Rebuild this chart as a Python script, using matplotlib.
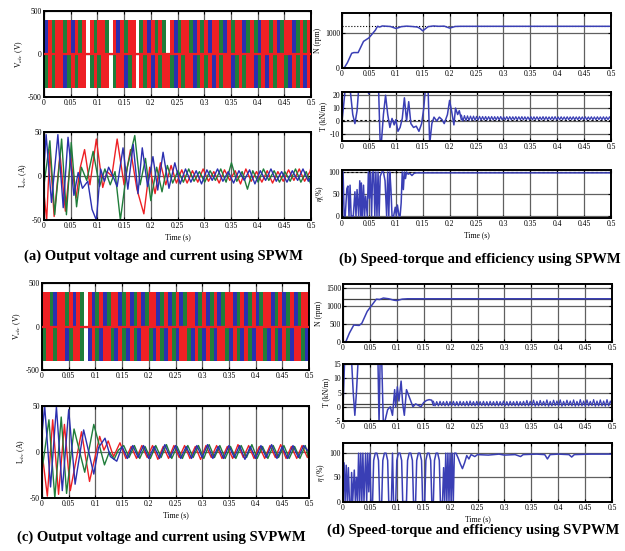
import numpy as np
import matplotlib
matplotlib.use("Agg")
import matplotlib.pyplot as plt

plt.rcParams['font.family'] = ['Liberation Serif', 'DejaVu Serif']
plt.rcParams['mathtext.fontset'] = 'stix'
plt.rcParams['axes.unicode_minus'] = False

# ---- data ----
t_ticks = [0, 0.05, 0.1, 0.15, 0.2, 0.25, 0.3, 0.35, 0.4, 0.45, 0.5]
t_labels = ['0', '0.05', '0.1', '0.15', '0.2', '0.25', '0.3', '0.35', '0.4', '0.45', '0.5']

captions = ['(a) Output voltage and current using SPWM',
            '(b) Speed-torque and efficiency using SPWM',
            '(c) Output voltage and current using SVPWM',
            '(d) Speed-torque and efficiency using SVPWM']

# line voltage stripes (one colour per slot, w = gap), level +-400 V
v_level = 400
va_top = "brgrrgrbrgr" "w" "rgrrg" "w" "rbrgrr" "w" "grbrgrg" "w" "rbgrrgbrgrbrrgbrgrrbgrgbrrgrbgrrbgrgr"
va_bot = "grgrrbgrgrr" "w" "grgrr" "w" "grrbgr" "w" "rgrbrgrrgbrgrrbgrgrbrgrrbgrgrrbgrbrgrrgbrgrbr"
vc_top = "rrgbrrgrbrg" "w" "rbgrbgrrbgrbgrbgrrbgrbgrbgrrbgrbgrbgrrbgrbgrbgrrbgrbgrbgrr"
vc_bot = "grrgrrbgrrg" "w" "brgbrrgbrgbrgbrrgbrgbrgbrrgbrgbrgbrrgbrgbrgbrrgbrgbrgbrrgb"

# phase currents (SPWM), extrema
ia_b_t = [0, 0.004, 0.014, 0.026, 0.036, 0.045, 0.056, 0.064, 0.072, 0.082, 0.090, 0.098, 0.106, 0.113,
          0.121, 0.129, 0.137, 0.148, 0.157, 0.167, 0.176, 0.184, 0.194, 0.204, 0.213, 0.223, 0.234, 0.245,
          0.255, 0.265, 0.275, 0.285, 0.295, 0.305, 0.315, 0.325, 0.335, 0.345, 0.355, 0.365, 0.375, 0.385,
          0.395, 0.405, 0.415, 0.425, 0.435, 0.445, 0.455, 0.465, 0.475, 0.485, 0.495, 0.5]
ia_b_v = [10, 47, -30, 47, -36, 44, -22, 4, -14, -6, -38, -50, 8, -6,
          10, 0, -12, 32, -15, 36, -20, 32, -12, 22, -16, 27, -14, 15,
          -9, 8, -7, 6, -9, 7, -5, 8, -6, 5, -8, 6, -5, 7,
          -9, 6, -5, 8, -6, 5, -7, 6, -5, 8, -6, 0]
ia_r_t = [0, 0.005, 0.011, 0.019, 0.030, 0.040, 0.050, 0.060, 0.068, 0.076, 0.086, 0.098, 0.110, 0.118,
          0.127, 0.137, 0.150, 0.162, 0.174, 0.187, 0.198, 0.208, 0.218, 0.228, 0.238, 0.248, 0.258, 0.268,
          0.278, 0.288, 0.298, 0.308, 0.318, 0.328, 0.338, 0.348, 0.358, 0.368, 0.378, 0.388, 0.398, 0.408,
          0.418, 0.428, 0.438, 0.448, 0.458, 0.468, 0.478, 0.488, 0.498, 0.5]
ia_r_v = [-20, -50, 30, -46, 25, -40, 20, -25, 10, 30, -10, 42, -13, 5,
          0, 42, -10, 30, -15, -43, 10, -20, 15, -10, 12, -8, 7, -8,
          6, -7, 8, -6, 5, -8, 7, -5, 6, -9, 8, -6, 5, -7,
          6, -8, 5, -6, 7, -5, 8, -6, 5, 10]
ia_g_t = [0, 0.011, 0.020, 0.033, 0.042, 0.051, 0.061, 0.070, 0.080, 0.092, 0.104, 0.114, 0.124, 0.133,
          0.143, 0.156, 0.170, 0.180, 0.190, 0.200, 0.211, 0.221, 0.231, 0.241, 0.251, 0.261, 0.271, 0.281,
          0.291, 0.301, 0.311, 0.321, 0.331, 0.341, 0.351, 0.361, 0.371, 0.381, 0.391, 0.401, 0.411, 0.421,
          0.431, 0.441, 0.451, 0.461, 0.471, 0.481, 0.491, 0.5]
ia_g_v = [-10, 40, -44, 42, -44, 38, -35, 10, -5, 28, -12, 8, -10, 5,
          -50, 10, 46, -10, 20, -28, 10, -18, 12, -8, 6, -7, 8, -6,
          5, -7, 6, -5, 8, -7, 15, -6, 5, -15, 6, -7, 8, -5,
          6, -7, 5, -6, 8, -7, 5, -10]

# phase currents (SVPWM)
ic_b_t = [0, 0.005, 0.016, 0.027, 0.038, 0.050, 0.062, 0.078, 0.097, 0.106, 0.118, 0.128, 0.140,
          0.15, 0.16, 0.17, 0.18, 0.19, 0.20, 0.21, 0.22, 0.23, 0.24, 0.25, 0.26, 0.27, 0.28, 0.29, 0.30,
          0.31, 0.32, 0.33, 0.34, 0.35, 0.36, 0.37, 0.38, 0.39, 0.40, 0.41, 0.42, 0.43, 0.44, 0.45, 0.46,
          0.47, 0.48, 0.49, 0.5]
ic_b_v = [20, 50, -38, 49, -42, 46, -35, 24, -24, 5, 15, -5, -10,
          6, -7, 7, -6, 7, -7, 6, -7, 8, -6, 7, -7, 6, -7, 7, -6,
          8, -7, 6, -7, 7, -6, 7, -8, 6, -7, 7, -6, 8, -7, 6, -7,
          7, -6, 7, 0]
ic_r_t = [0, 0.010, 0.020, 0.031, 0.042, 0.053, 0.074, 0.089, 0.108, 0.116, 0.124, 0.134, 0.146,
          0.157, 0.167, 0.177, 0.187, 0.197, 0.207, 0.217, 0.227, 0.237, 0.247, 0.257, 0.267, 0.277, 0.287,
          0.297, 0.307, 0.317, 0.327, 0.337, 0.347, 0.357, 0.367, 0.377, 0.387, 0.397, 0.407, 0.417, 0.427,
          0.437, 0.447, 0.457, 0.467, 0.477, 0.487, 0.497, 0.5]
ic_r_v = [0, -48, 35, -46, 30, -42, 22, -32, 17, 2, 12, -5, 10,
          -7, 6, -7, 7, -6, 7, -8, 6, -7, 7, -6, 7, -7, 6,
          -8, 7, -6, 7, -7, 6, -7, 8, -6, 7, -7, 6, -7, 7,
          -6, 8, -7, 6, -7, 7, -6, 8]
ic_g_t = [0, 0.013, 0.024, 0.036, 0.046, 0.060, 0.080, 0.097, 0.117, 0.126, 0.135, 0.143,
          0.153, 0.163, 0.173, 0.183, 0.193, 0.203, 0.213, 0.223, 0.233, 0.243, 0.253, 0.263, 0.273, 0.283,
          0.293, 0.303, 0.313, 0.323, 0.333, 0.343, 0.353, 0.363, 0.373, 0.383, 0.393, 0.403, 0.413, 0.423,
          0.433, 0.443, 0.453, 0.463, 0.473, 0.483, 0.493, 0.5]
ic_g_v = [-20, 35, -50, 38, -45, 25, -22, 30, -14, 0, -8, 2,
          7, -6, 7, -7, 6, -7, 7, -6, 8, -7, 6, -7, 7, -6,
          7, -7, 8, -6, 7, -7, 6, -7, 7, -6, 8, -7, 6, -7,
          7, -6, 7, -7, 6, -7, 7, -8]

# speed (rpm)
speed_b = [(0, 0), (0.004, 0), (0.010, 150), (0.018, 420), (0.022, 440), (0.030, 440), (0.040, 760),
           (0.050, 860), (0.055, 950), (0.062, 1080), (0.066, 1190), (0.070, 1170), (0.075, 1200),
           (0.080, 1195), (0.090, 1185), (0.100, 1130), (0.105, 1150), (0.110, 1180), (0.120, 1195),
           (0.130, 1185), (0.140, 1170), (0.145, 1130), (0.150, 1060), (0.155, 1120), (0.160, 1180),
           (0.170, 1200), (0.180, 1190), (0.190, 1195), (0.200, 1140), (0.205, 1160), (0.210, 1185),
           (0.220, 1190), (0.5, 1190)]
speed_d = [(0, 0), (0.005, 0), (0.012, 250), (0.020, 470), (0.030, 460), (0.035, 520), (0.045, 850),
           (0.055, 1050), (0.062, 1190), (0.068, 1180), (0.075, 1220), (0.085, 1200), (0.095, 1160),
           (0.100, 1150), (0.110, 1190), (0.120, 1200), (0.5, 1200)]
speed_ref = 1200

# torque (kN/m): transient part, then ripple samples
torque_b = [(0, 0), (0.003, 12), (0.006, 25), (0.015, 25), (0.020, 5), (0.024, -2), (0.028, 8),
            (0.031, 25), (0.046, 25), (0.050, 21), (0.054, 25), (0.068, 25), (0.071, -18), (0.073, -18),
            (0.077, 5), (0.081, 20), (0.085, 5), (0.089, -5), (0.093, 2), (0.097, -3), (0.100, 1),
            (0.104, -8), (0.108, -5), (0.112, 2), (0.116, 18), (0.120, 0), (0.124, 15), (0.128, -2),
            (0.133, -5), (0.138, -4), (0.143, -8), (0.148, -2), (0.152, 10), (0.155, 25), (0.160, 25),
            (0.163, -18), (0.167, -2), (0.171, 3), (0.176, 0), (0.181, 3), (0.186, 1), (0.190, -2),
            (0.196, 5), (0.200, 16), (0.204, 7), (0.208, -3), (0.211, 10), (0.215, 5), (0.218, 8),
            (0.222, 1)]
torque_b_ripple = [4.5, 0.0, 4.2, 0.3, 4.0, 0.5, 3.8, 0.6, 3.8, 0.6, 3.6, 0.7, 3.6, 0.8, 3.5, 0.8,
                   3.5, 0.8, 3.4, 0.9, 3.5, 0.8, 3.4, 0.9, 3.4, 0.9, 3.5, 0.8, 3.3, 0.9, 3.4, 1.0,
                   3.4, 0.9, 3.3, 1.0, 3.4, 0.9, 3.3, 1.0, 3.4, 0.9, 3.3, 1.0, 3.2, 1.0, 3.4, 0.9,
                   3.3, 1.0, 3.3, 1.0, 3.2, 1.0, 3.4, 0.9, 3.3, 1.0, 3.2, 1.1, 3.3, 1.0, 3.4, 0.9,
                   3.2, 1.0, 3.3, 1.1, 3.2, 1.0, 3.3, 1.0, 3.2, 1.1, 3.3, 1.0, 3.2, 1.0, 3.3, 1.1,
                   3.2, 1.0, 3.3, 1.0, 3.2, 1.1, 3.3, 1.0, 3.2, 1.0, 3.3, 1.1, 3.2, 1.0, 3.3, 1.0,
                   3.2, 1.1, 3.3, 1.0]
torque_b_ripple_span = (0.222, 0.5)
torque_b_ref = 1.0

torque_d = [(0, 0), (0.003, 16), (0.016, 16), (0.019, 5), (0.022, -3), (0.025, 5), (0.028, 16),
            (0.065, 16), (0.067, -6), (0.069, 16), (0.072, 16), (0.075, -6), (0.078, -5), (0.083, -1),
            (0.088, 0), (0.092, -3), (0.096, 6), (0.098, 0), (0.101, 7), (0.104, 2), (0.108, 9),
            (0.111, 1), (0.114, -3), (0.118, 6), (0.122, 4), (0.126, 2), (0.130, 0), (0.135, 1),
            (0.140, 0.5), (0.145, 0), (0.150, 1.5), (0.155, 2.2), (0.160, 2.5), (0.165, 2.3),
            (0.168, 0.5)]
torque_d_ripple = [1.9, 0.3, 1.8, 0.3, 1.9, 0.4, 1.8, 0.3, 1.9, 0.3, 1.8, 0.4, 1.9, 0.3, 1.8, 0.3,
                   1.9, 0.4, 1.8, 0.3, 1.9, 0.3, 2.0, 0.4, 1.8, 0.3, 1.9, 0.3, 1.8, 0.4, 1.9, 0.3,
                   1.8, 0.3, 1.9, 0.4, 1.8, 0.3, 1.9, 0.3, 1.8, 0.4, 2.0, 0.3, 1.8, 0.3, 1.9, 0.4,
                   1.8, 0.3, 1.9, 0.3, 1.8, 0.4, 1.9, 0.3, 2.2, 0.3, 1.9, 0.4, 2.3, 0.2, 1.9, 0.3,
                   2.2, 0.4, 1.9, 0.3, 2.4, 0.2, 1.9, 0.3, 2.3, 0.4, 2.0, 0.3, 2.4, 0.2, 1.9, 0.3,
                   2.3, 0.4, 2.0, 0.3, 2.4, 0.2, 1.9, 0.3, 2.5, 0.3, 2.0, 0.2, 2.4, 0.3, 1.9, 0.4,
                   2.5, 0.2, 2.0, 0.3, 2.4, 0.3, 2.0, 0.2, 2.5, 0.3, 2.0, 0.3]
torque_d_ripple_span = (0.168, 0.5)
torque_d_ref = 1.0

# efficiency (%)
eta_b = [(0, 0), (0.002, 100), (0.004, 0), (0.006, 0), (0.009, 62), (0.011, 68), (0.013, 0), (0.015, 70),
         (0.017, 0), (0.021, 0), (0.024, 55), (0.026, 0), (0.028, 60), (0.031, 0), (0.033, 80), (0.035, 0),
         (0.036, 75), (0.038, 0), (0.040, 70), (0.042, 0), (0.044, 45), (0.047, 0), (0.049, 100), (0.051, 40),
         (0.053, 100), (0.055, 0), (0.057, 100), (0.059, 100), (0.061, 0), (0.063, 100), (0.065, 0),
         (0.067, 100), (0.069, 0), (0.071, 90), (0.074, 100), (0.077, 100), (0.080, 80), (0.083, 0),
         (0.085, 100), (0.087, 0), (0.089, 100), (0.091, 60), (0.093, 0), (0.096, 0), (0.099, 20),
         (0.101, 0), (0.103, 25), (0.106, 0), (0.108, 0), (0.110, 30), (0.112, 100), (0.114, 60),
         (0.116, 100), (0.118, 85), (0.120, 100), (0.123, 95), (0.126, 97), (0.130, 92), (0.134, 97),
         (0.138, 98), (0.145, 98), (0.2, 98), (0.3, 98), (0.4, 98), (0.5, 98)]
eta_d = [(0, 0), (0.002, 80), (0.004, 0), (0.006, 75), (0.008, 0), (0.010, 70), (0.012, 0), (0.015, 0),
         (0.016, 60), (0.018, 0), (0.021, 65), (0.023, 0), (0.025, 50), (0.027, 0), (0.029, 100), (0.031, 0),
         (0.033, 100), (0.035, 0), (0.037, 100), (0.039, 0), (0.042, 100), (0.044, 0), (0.046, 100),
         (0.048, 20), (0.050, 100), (0.052, 0), (0.055, 0), (0.057, 85), (0.060, 100), (0.063, 100),
         (0.066, 85), (0.068, 0), (0.072, 0), (0.074, 85), (0.077, 100), (0.080, 100), (0.083, 85),
         (0.085, 0), (0.090, 0), (0.092, 100), (0.094, 0), (0.098, 0), (0.100, 85), (0.103, 100),
         (0.106, 100), (0.109, 85), (0.111, 0), (0.118, 0), (0.120, 85), (0.123, 100), (0.126, 100),
         (0.129, 85), (0.131, 0), (0.135, 0), (0.137, 85), (0.140, 100), (0.143, 100), (0.146, 85),
         (0.148, 0), (0.152, 0), (0.154, 85), (0.157, 100), (0.160, 100), (0.163, 85), (0.165, 0),
         (0.168, 0), (0.170, 85), (0.173, 100), (0.176, 100), (0.179, 85), (0.181, 0), (0.185, 0),
         (0.187, 70), (0.189, 0), (0.191, 100), (0.193, 0), (0.195, 100), (0.197, 0), (0.199, 100),
         (0.201, 0), (0.203, 100), (0.205, 0), (0.207, 100), (0.210, 100), (0.214, 90), (0.218, 78),
         (0.222, 68), (0.226, 80), (0.230, 95), (0.234, 88), (0.238, 97), (0.245, 93), (0.25, 97),
         (0.27, 96), (0.29, 98), (0.30, 96), (0.32, 97), (0.33, 93), (0.335, 97), (0.36, 98),
         (0.375, 97), (0.38, 88), (0.385, 97), (0.40, 98), (0.42, 97), (0.425, 92), (0.43, 97),
         (0.46, 98), (0.5, 98)]

# ---- drawing ----
RED, GRN, BLU = '#ee2024', '#1f7d3a', '#2b2fb0'
LINE = '#3a3fb5'
cmap = {'r': RED, 'g': GRN, 'b': BLU}

fig = plt.figure(figsize=(6.25, 5.51), dpi=100)


def px_axes(left, top, right, bottom):
    return fig.add_axes([left / 625, 1 - bottom / 551, (right - left) / 625, (bottom - top) / 551])


def style(ax, yticks, ylim, ylabel, xlabel=None):
    ax.set_xlim(0, 0.5)
    ax.set_ylim(*ylim)
    ax.set_xticks(t_ticks)
    ax.set_xticklabels(t_labels)
    ax.set_yticks(yticks)
    ax.tick_params(direction='in', top=True, right=True, length=2.5, width=0.8,
                   labelsize=5.5, pad=1.5)
    ax.grid(True, color='#606060', lw=0.9)
    ax.set_axisbelow(True)
    for s in ax.spines.values():
        s.set_linewidth(1.4)
    ax.set_ylabel(ylabel, fontsize=5.5, labelpad=2)
    if xlabel:
        ax.set_xlabel(xlabel, fontsize=5.5, labelpad=2)


def stripes(ax, top, bot):
    for seq, sign in ((top, 1), (bot, -1)):
        edges = np.linspace(0, 0.5, len(seq) + 1)
        keep = [i for i, c in enumerate(seq) if c != 'w']
        ax.bar(edges[keep], sign * v_level, width=edges[1] - edges[0], align='edge',
               color=[cmap[seq[i]] for i in keep], linewidth=0, zorder=2)
    ax.axhline(0, color=RED, lw=1.6, zorder=3)


def pairs(ax, data, **kw):
    arr = np.array(data)
    ax.plot(arr[:, 0], arr[:, 1], **kw)


# (a) SPWM voltage / current
ax = px_axes(44, 11, 311, 97)
stripes(ax, va_top, va_bot)
style(ax, [-500, 0, 500], (-500, 500), r'V$_{abc}$ (V)')

ax = px_axes(44, 132, 311, 220)
ax.plot(ia_r_t, ia_r_v, color=RED, lw=1.0)
ax.plot(ia_g_t, ia_g_v, color=GRN, lw=1.0)
ax.plot(ia_b_t, ia_b_v, color=BLU, lw=1.0)
style(ax, [-50, 0, 50], (-50, 50), r'I$_{abc}$ (A)', 'Time (s)')

# (c) SVPWM voltage / current
ax = px_axes(42, 283, 309, 370)
stripes(ax, vc_top, vc_bot)
style(ax, [-500, 0, 500], (-500, 500), r'V$_{abc}$ (V)')

ax = px_axes(42, 406, 309, 498)
ax.plot(ic_r_t, ic_r_v, color=RED, lw=1.0)
ax.plot(ic_g_t, ic_g_v, color=GRN, lw=1.0)
ax.plot(ic_b_t, ic_b_v, color=BLU, lw=1.0)
style(ax, [-50, 0, 50], (-50, 50), r'I$_{abc}$ (A)', 'Time (s)')

# (b) SPWM speed / torque / efficiency
ax = px_axes(342, 13, 611, 68)
ax.axhline(speed_ref, color='k', lw=0.8, ls=':')
pairs(ax, speed_b, color=LINE, lw=1.1)
style(ax, [0, 1000], (0, 1570), 'N (rpm)')

ax = px_axes(342, 92, 611, 141)
ax.axhline(torque_b_ref, color='k', lw=0.8, ls='--', dashes=(2, 2))
pairs(ax, torque_b, color=LINE, lw=1.1)
ax.plot(np.linspace(*torque_b_ripple_span, len(torque_b_ripple)), torque_b_ripple, color=LINE, lw=0.9)
style(ax, [-10, 0, 10, 20], (-15.5, 22.5), 'T (kN/m)')

ax = px_axes(342, 170, 611, 218)
ax.axhline(100, color='k', lw=0.8, ls='--', dashes=(2, 2))
pairs(ax, eta_b, color=LINE, lw=1.1)
style(ax, [0, 50, 100], (-4.5, 104.5), r'$\eta$(%)', 'Time (s)')

# (d) SVPWM speed / torque / efficiency
ax = px_axes(343, 284, 612, 342)
ax.axhline(speed_ref, color='#404040', lw=0.9)
pairs(ax, speed_d, color=LINE, lw=1.1)
style(ax, [0, 500, 1000, 1500], (0, 1610), 'N (rpm)')

ax = px_axes(343, 364, 612, 421)
ax.axhline(torque_d_ref, color='#404040', lw=0.9)
pairs(ax, torque_d, color=LINE, lw=1.1)
ax.plot(np.linspace(*torque_d_ripple_span, len(torque_d_ripple)), torque_d_ripple, color=LINE, lw=0.9)
style(ax, [-5, 0, 5, 10, 15], (-5, 15), 'T (kN/m)')

ax = px_axes(343, 443, 612, 502)
pairs(ax, eta_d, color=LINE, lw=1.1)
style(ax, [0, 50, 100], (-1, 121), r'$\eta$ (%)', 'Time (s)')

# captions
cap_pos = [(0.262, 0.535), (0.768, 0.530), (0.258, 0.025), (0.757, 0.038)]
for (x, y), txt in zip(cap_pos, captions):
    fig.text(x, y, txt, ha='center', va='center', fontsize=10.5, fontweight='bold')

fig.savefig('out.png', dpi=100, facecolor='white')
